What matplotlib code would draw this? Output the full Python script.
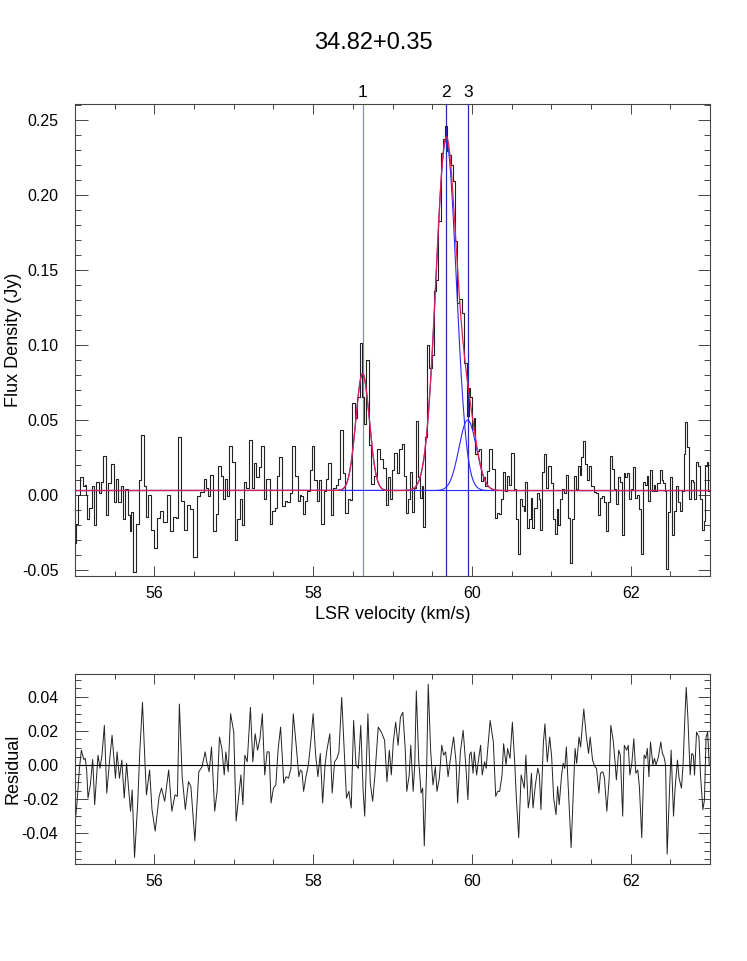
import numpy as np
import matplotlib
matplotlib.use("Agg")
import matplotlib.pyplot as plt
from matplotlib.ticker import MultipleLocator, FormatStrFormatter
import matplotlib.transforms as mtransforms

plt.rcParams["font.family"] = ["Liberation Sans", "DejaVu Sans"]
plt.rcParams["axes.unicode_minus"] = False

title = "34.82+0.35"

# channel velocities (km/s) and fit residuals (Jy)
vel = [
    55.000, 55.025, 55.054, 55.080, 55.110, 55.130, 55.147, 55.164, 55.193, 55.223,
    55.248, 55.290, 55.315, 55.340, 55.370, 55.400, 55.440, 55.467, 55.510, 55.530,
    55.560, 55.590, 55.620, 55.650, 55.680, 55.700, 55.720, 55.750, 55.790, 55.815,
    55.850, 55.880, 55.900, 55.940, 55.970, 56.010, 56.060, 56.090, 56.130, 56.180,
    56.220, 56.260, 56.290, 56.315, 56.350, 56.390, 56.430, 56.460, 56.510, 56.560,
    56.600, 56.640, 56.660, 56.690, 56.720, 56.760, 56.790, 56.820, 56.850, 56.880,
    56.900, 56.930, 56.960, 57.000, 57.030, 57.060, 57.090, 57.115, 57.140, 57.170,
    57.210, 57.240, 57.270, 57.300, 57.330, 57.360, 57.390, 57.420, 57.446, 57.470,
    57.500, 57.530, 57.560, 57.590, 57.630, 57.660, 57.690, 57.720, 57.750, 57.790,
    57.820, 57.840, 57.860, 57.880, 57.910, 57.940, 57.970, 58.000, 58.030, 58.060,
    58.090, 58.120, 58.150, 58.170, 58.210, 58.240, 58.270, 58.300, 58.325, 58.360,
    58.390, 58.420, 58.450, 58.480, 58.510, 58.540, 58.570, 58.600, 58.630, 58.650,
    58.690, 58.720, 58.750, 58.780, 58.820, 58.860, 58.900, 58.930, 58.960, 58.985,
    59.010, 59.040, 59.070, 59.100, 59.130, 59.160, 59.180, 59.210, 59.230, 59.260,
    59.280, 59.300, 59.330, 59.360, 59.380, 59.400, 59.430, 59.450, 59.480, 59.510,
    59.540, 59.560, 59.590, 59.620, 59.645, 59.670, 59.700, 59.730, 59.750, 59.770,
    59.800, 59.820, 59.855, 59.890, 59.920, 59.950, 59.970, 59.990, 60.015, 60.030,
    60.060, 60.080, 60.110, 60.130, 60.160, 60.180, 60.200, 60.230, 60.270, 60.300,
    60.325, 60.350, 60.380, 60.400, 60.430, 60.450, 60.480, 60.510, 60.540, 60.560,
    60.590, 60.620, 60.645, 60.660, 60.680, 60.710, 60.730, 60.750, 60.770, 60.800,
    60.830, 60.850, 60.870, 60.900, 60.920, 60.950, 60.980, 61.005, 61.030, 61.060,
    61.080, 61.100, 61.130, 61.150, 61.170, 61.190, 61.220, 61.250, 61.275, 61.300,
    61.320, 61.350, 61.370, 61.390, 61.410, 61.440, 61.470, 61.490, 61.520, 61.550,
    61.570, 61.600, 61.620, 61.650, 61.670, 61.700, 61.730, 61.750, 61.780, 61.805,
    61.820, 61.850, 61.870, 61.900, 61.920, 61.950, 61.970, 61.990, 62.015, 62.040,
    62.065, 62.090, 62.110, 62.140, 62.170, 62.190, 62.210, 62.230, 62.250, 62.280,
    62.300, 62.320, 62.350, 62.380, 62.400, 62.420, 62.440, 62.460, 62.490, 62.510,
    62.540, 62.560, 62.590, 62.610, 62.640, 62.660, 62.680, 62.700, 62.720, 62.750,
    62.770, 62.790, 62.805, 62.830, 62.860, 62.880, 62.910, 62.930, 62.950, 62.970,
    62.990,
]
resid = [
    -0.0347, -0.0222, -0.0029, 0.0087, 0.0033, 0.0039, -0.0029, -0.0193, -0.0116, 0.0033,
    -0.0232, 0.0058, -0.0019, 0.0058, 0.0232, -0.0164, 0.0048, 0.0174, -0.0077, 0.0077,
    -0.0077, 0.0029, -0.0193, 0.0010, -0.0164, -0.0270, -0.0145, -0.0540, -0.0222, 0.0068,
    0.0367, 0.0029, -0.0174, -0.0029, -0.0260, -0.0386, -0.0183, -0.0135, -0.0212, -0.0029,
    -0.0270, -0.0174, -0.0183, 0.0357, -0.0068, -0.0260, -0.0097, -0.0125, -0.0444, -0.0039,
    -0.0010, 0.0077, 0.0019, -0.0039, 0.0106, -0.0270, -0.0154, 0.0164, 0.0097, -0.0058,
    0.0077, -0.0039, 0.0300, 0.0193, -0.0328, -0.0193, -0.0058, -0.0232, 0.0058, 0.0019,
    0.0338, 0.0019, 0.0183, 0.0087, 0.0154, 0.0300, -0.0058, 0.0077, 0.0077, -0.0222,
    -0.0135, -0.0116, 0.0097, 0.0222, -0.0106, -0.0068, -0.0077, -0.0019, 0.0300, 0.0097,
    -0.0068, -0.0029, -0.0039, -0.0154, -0.0068, 0.0000, 0.0135, 0.0300, 0.0068, -0.0068,
    0.0068, -0.0222, 0.0000, 0.0077, 0.0183, -0.0164, 0.0019, 0.0039, 0.0077, 0.0396,
    0.0097, -0.0193, -0.0154, -0.0251, 0.0261, 0.0000, -0.0019, 0.0232, -0.0154, -0.0299,
    0.0300, -0.0106, -0.0212, -0.0048, 0.0222, 0.0193, 0.0145, -0.0097, 0.0087, -0.0058,
    0.0135, 0.0251, 0.0116, 0.0280, 0.0309, 0.0097, -0.0154, -0.0058, 0.0116, -0.0154,
    0.0000, 0.0434, 0.0029, -0.0164, -0.0135, -0.0473, -0.0019, 0.0473, 0.0087, -0.0116,
    -0.0010, -0.0154, -0.0077, 0.0116, 0.0058, 0.0077, -0.0068, 0.0039, 0.0106, 0.0164,
    0.0019, -0.0222, 0.0077, 0.0203, 0.0019, -0.0203, 0.0058, 0.0077, -0.0048, 0.0077,
    -0.0058, 0.0019, 0.0116, -0.0058, 0.0019, -0.0019, 0.0097, 0.0261, 0.0135, -0.0183,
    -0.0154, -0.0154, -0.0058, 0.0125, 0.0000, 0.0097, 0.0039, 0.0251, 0.0010, -0.0193,
    -0.0425, -0.0058, -0.0106, -0.0135, 0.0058, -0.0251, -0.0193, -0.0048, -0.0251, -0.0116,
    -0.0019, -0.0058, -0.0261, 0.0125, 0.0241, 0.0019, 0.0164, 0.0048, -0.0193, -0.0290,
    -0.0125, -0.0232, -0.0058, 0.0010, -0.0019, 0.0106, -0.0183, -0.0483, -0.0193, 0.0097,
    0.0010, 0.0164, 0.0106, 0.0222, 0.0328, 0.0174, 0.0068, 0.0164, 0.0029, -0.0010,
    -0.0019, -0.0164, -0.0048, -0.0039, -0.0077, -0.0270, -0.0077, 0.0232, 0.0145, 0.0010,
    -0.0087, 0.0087, 0.0058, -0.0299, 0.0116, 0.0087, 0.0116, -0.0058, 0.0010, 0.0154,
    -0.0048, -0.0029, -0.0125, -0.0425, 0.0058, 0.0039, 0.0097, -0.0068, 0.0135, 0.0000,
    0.0039, 0.0000, 0.0048, 0.0135, 0.0068, 0.0048, 0.0000, -0.0521, -0.0145, 0.0087,
    -0.0299, -0.0135, 0.0029, -0.0077, -0.0135, 0.0000, 0.0241, 0.0454, 0.0290, -0.0058,
    0.0068, 0.0058, -0.0058, 0.0193, 0.0164, -0.0058, -0.0261, -0.0203, 0.0164, 0.0193,
    0.0000,
]

# gaussian fit components
comp_labels = ["1", "2", "3"]
centers = [58.623, 59.675, 59.947]
amps = [0.078, 0.2335, 0.047]
sigmas = [0.085, 0.128, 0.110]
baseline = 0.003

vel = np.array(vel)
resid = np.array(resid)


def gauss(x, a, c, s):
    return a * np.exp(-0.5 * ((x - c) / s) ** 2)


model = baseline + sum(gauss(vel, a, c, s) for a, c, s in zip(amps, centers, sigmas))
flux = model + resid

vfine = np.linspace(55, 63, 2000)
fit_total = baseline + sum(gauss(vfine, a, c, s) for a, c, s in zip(amps, centers, sigmas))

fig = plt.figure(figsize=(7.47, 9.61), dpi=100)
ax1 = fig.add_axes([0.1004, 0.4006, 0.8501, 0.4912])
ax2 = fig.add_axes([0.1004, 0.1009, 0.8501, 0.1978])

fig.text(0.5, 0.955, title, ha="center", va="center", fontsize=17)

# top: spectrum + fit
ax1.step(vel, flux, where="mid", color="#222222", lw=0.8, zorder=3)
for a, c, s in zip(amps, centers, sigmas):
    ax1.plot(vfine, baseline + gauss(vfine, a, c, s), color="#2a2aff", lw=0.8, zorder=4)
ax1.plot(vfine, fit_total, color="#e0204a", lw=0.9, zorder=5)

line_colors = ["#8282ff", "#2a2ab8", "#2a2ab8"]
trans = mtransforms.blended_transform_factory(ax1.transData, ax1.transAxes)
for lab, c, col in zip(comp_labels, centers, line_colors):
    ax1.axvline(c, color=col, lw=0.9, zorder=2)
    ax1.text(c, 1.009, lab, transform=trans, ha="center", va="bottom", fontsize=12.5)

ax1.set_xlim(55, 63)
ax1.set_ylim(-0.054, 0.2607)
ax1.set_xlabel("LSR velocity (km/s)", fontsize=13, labelpad=3)
ax1.set_ylabel("Flux Density (Jy)", fontsize=13)
ax1.yaxis.set_label_coords(-0.084, 0.5)
ax1.yaxis.set_major_locator(MultipleLocator(0.05))
ax1.yaxis.set_minor_locator(MultipleLocator(0.01))
ax1.yaxis.set_major_formatter(FormatStrFormatter("%.2f"))

# bottom: residual
ax2.plot(vel, resid, color="#222222", lw=0.7)
ax2.axhline(0, color="black", lw=0.8)
ax2.set_xlim(55, 63)
ax2.set_ylim(-0.0579, 0.0533)
ax2.set_ylabel("Residual", fontsize=13)
ax2.yaxis.set_label_coords(-0.084, 0.5)
ax2.yaxis.set_major_locator(MultipleLocator(0.02))
ax2.yaxis.set_minor_locator(MultipleLocator(0.005))
ax2.yaxis.set_major_formatter(FormatStrFormatter("%.2f"))

for ax in (ax1, ax2):
    ax.xaxis.set_major_locator(MultipleLocator(2))
    ax.xaxis.set_minor_locator(MultipleLocator(0.5))
    ax.xaxis.set_major_formatter(FormatStrFormatter("%d"))
    ax.tick_params(which="both", direction="in", top=True, right=True,
                   labelsize=11.5, color="#444444", width=0.7)
    ax.tick_params(axis="x", which="major", length=7, pad=7.5)
    ax.tick_params(axis="x", which="minor", length=3.5)
    ax.tick_params(axis="y", which="major", length=9, pad=12)
    ax.tick_params(axis="y", which="minor", length=4.5)
    for sp in ax.spines.values():
        sp.set_color("#444444")
        sp.set_linewidth(0.8)

fig.savefig("out.png", dpi=100)
